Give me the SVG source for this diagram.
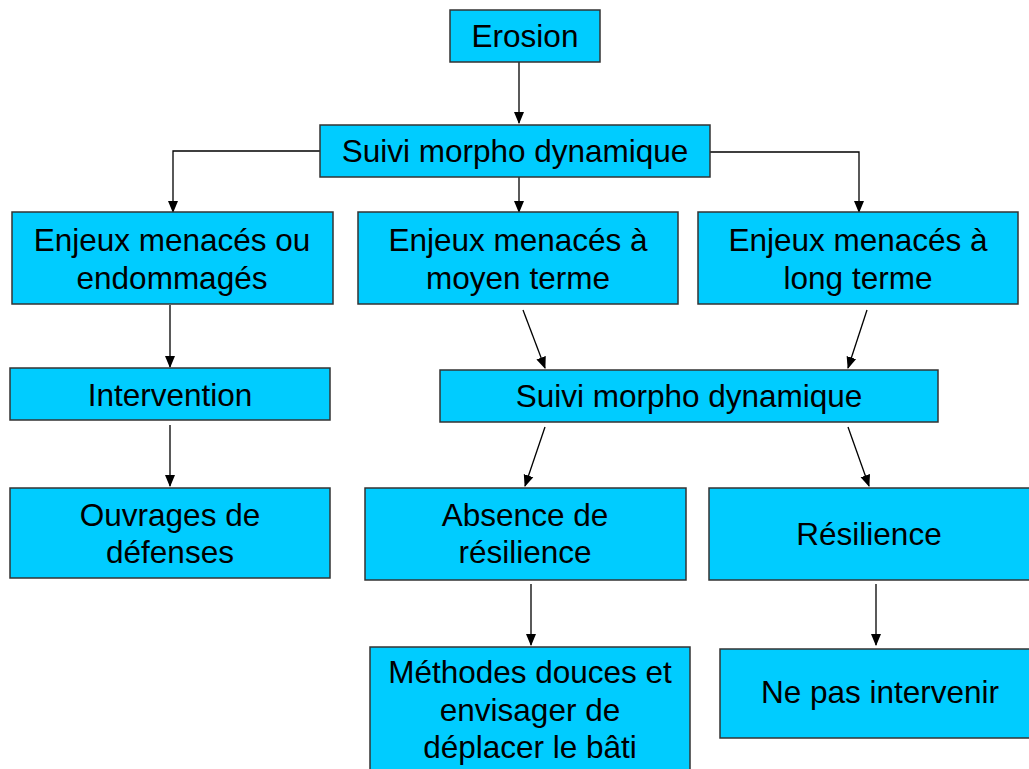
<svg xmlns="http://www.w3.org/2000/svg" width="1029" height="769" viewBox="0 0 1029 769">
<style>
.box{fill:#00CCFF;stroke:#333;stroke-width:1.5}
.t{font-family:"Liberation Sans",Arial,sans-serif;font-size:31.5px;fill:#000;text-anchor:middle}
.c{fill:none;stroke:#000;stroke-width:1.3}
</style>
<defs>
<marker id="ah" markerWidth="12" markerHeight="12" refX="11" refY="6" orient="auto" markerUnits="userSpaceOnUse">
<path d="M0,1 L12,6 L0,11 Z" fill="#000"/>
</marker>
</defs>
<rect width="1029" height="769" fill="#fff"/>
<g id="connectors">
<path class="c" d="M519,62 V123" marker-end="url(#ah)"/>
<path class="c" d="M320,151 H173 V212" marker-end="url(#ah)"/>
<path class="c" d="M519,177 V212" marker-end="url(#ah)"/>
<path class="c" d="M710,152 H859 V212" marker-end="url(#ah)"/>
<path class="c" d="M170,305 V367" marker-end="url(#ah)"/>
<path class="c" d="M170,425 V486" marker-end="url(#ah)"/>
<path class="c" d="M523,310 L545,368" marker-end="url(#ah)"/>
<path class="c" d="M867,310 L848,368" marker-end="url(#ah)"/>
<path class="c" d="M545,427 L525,486" marker-end="url(#ah)"/>
<path class="c" d="M848,427 L869,486" marker-end="url(#ah)"/>
<path class="c" d="M531,584 V645" marker-end="url(#ah)"/>
<path class="c" d="M876,584 V645" marker-end="url(#ah)"/>
</g>
<g id="erosion"><rect class="box" x="450" y="10" width="150" height="52"/><text class="t" x="525" y="47">Erosion</text></g>
<g id="suivi1"><rect class="box" x="320" y="125" width="390" height="52"/><text class="t" x="515" y="162">Suivi morpho dynamique</text></g>
<g id="enjeux-endommages"><rect class="box" x="12" y="212" width="321" height="92"/><text class="t" x="172" y="251">Enjeux menacés ou</text><text class="t" x="172" y="289">endommagés</text></g>
<g id="enjeux-moyen"><rect class="box" x="358" y="212" width="320" height="92"/><text class="t" x="518" y="251">Enjeux menacés à</text><text class="t" x="518" y="289">moyen terme</text></g>
<g id="enjeux-long"><rect class="box" x="698" y="212" width="320" height="92"/><text class="t" x="858" y="251">Enjeux menacés à</text><text class="t" x="858" y="289">long terme</text></g>
<g id="intervention"><rect class="box" x="10" y="368" width="320" height="52"/><text class="t" x="170" y="406">Intervention</text></g>
<g id="suivi2"><rect class="box" x="440" y="370" width="498" height="52"/><text class="t" x="689" y="407">Suivi morpho dynamique</text></g>
<g id="ouvrages"><rect class="box" x="10" y="488" width="320" height="90"/><text class="t" x="170" y="526">Ouvrages de</text><text class="t" x="170" y="563">défenses</text></g>
<g id="absence"><rect class="box" x="365" y="488" width="321" height="92"/><text class="t" x="525" y="526">Absence de</text><text class="t" x="525" y="563">résilience</text></g>
<g id="resilience"><rect class="box" x="709" y="488" width="325" height="92"/><text class="t" x="869" y="545">Résilience</text></g>
<g id="methodes"><rect class="box" x="370" y="647" width="320" height="130"/><text class="t" x="530" y="683">Méthodes douces et</text><text class="t" x="530" y="721">envisager de</text><text class="t" x="530" y="758">déplacer le bâti</text></g>
<g id="ne-pas"><rect class="box" x="720" y="649" width="314" height="89"/><text class="t" x="880" y="703">Ne pas intervenir</text></g>
</svg>
